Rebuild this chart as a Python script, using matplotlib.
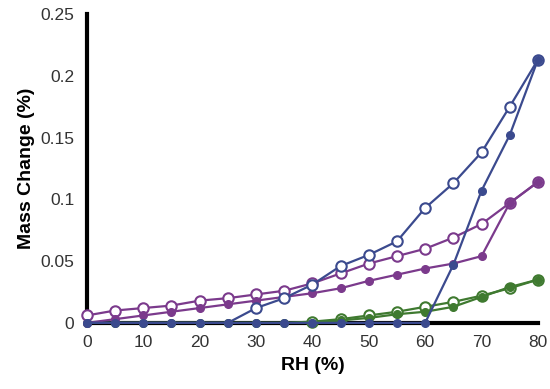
import matplotlib.pyplot as plt

plt.rcParams['font.family'] = ['Liberation Sans', 'DejaVu Sans']

rh = [0, 5, 10, 15, 20, 25, 30, 35, 40, 45, 50, 55, 60, 65, 70, 75, 80]

blue_open = [0, 0, 0, 0, 0, 0, 0.012, 0.02, 0.031, 0.046, 0.055, 0.066, 0.093, 0.113, 0.138, 0.175, 0.213]
blue_fill = [0, 0, 0, 0, 0, 0, 0, 0, 0, 0, 0, 0, 0, 0.047, 0.107, 0.152, 0.213]
purple_open = [0.006, 0.01, 0.012, 0.014, 0.018, 0.02, 0.023, 0.026, 0.032, 0.04, 0.048, 0.054, 0.06, 0.069, 0.08, 0.097, 0.114]
purple_fill = [0, 0.003, 0.006, 0.009, 0.012, 0.015, 0.018, 0.021, 0.024, 0.028, 0.034, 0.039, 0.044, 0.048, 0.054, 0.097, 0.114]
green_open = [0, 0, 0, 0, 0, 0, 0, 0, 0.001, 0.003, 0.006, 0.009, 0.013, 0.017, 0.022, 0.028, 0.035]
green_fill = [0, 0, 0, 0, 0, 0, 0, 0, 0, 0.002, 0.004, 0.007, 0.009, 0.013, 0.021, 0.029, 0.035]

blue = '#3b4a8e'
purple = '#7b3a8c'
green = '#3f7a30'

fig = plt.figure(figsize=(5.5, 3.89), dpi=100)
ax = fig.add_axes([0.158, 0.170, 0.820, 0.794])

# open circles first (hidden on the axis where value is 0), filled dots on top
for ys, c, z in [(green_open, green, 3), (purple_open, purple, 4), (blue_open, blue, 5)]:
    shown = [i for i, v in enumerate(ys) if v > 0]
    ax.plot(rh, ys, color=c, lw=1.6, marker='o', ms=7.5, mfc='white', mew=1.5,
            markevery=shown, zorder=z, clip_on=False)
for ys, c, z in [(green_fill, green, 3.5), (purple_fill, purple, 4.5), (blue_fill, blue, 5.5)]:
    ax.plot(rh, ys, color=c, lw=1.6, marker='o', ms=5.5, zorder=z, clip_on=False)

ax.set_xlim(0, 80)
ax.set_ylim(0, 0.25)
ax.set_xticks(range(0, 81, 10))
ax.set_yticks([0, 0.05, 0.1, 0.15, 0.2, 0.25])
ax.set_yticklabels(['0', '0.05', '0.1', '0.15', '0.2', '0.25'])
ax.tick_params(length=0, labelsize=12.5, colors='#333333', pad=9)

for s in ['top', 'right', 'bottom', 'left']:
    ax.spines[s].set_visible(False)
ax.plot([0, 80], [0, 0], color='black', lw=3, zorder=2, clip_on=False)
ax.plot([0, 0], [0, 0.25], color='black', lw=3, zorder=2, clip_on=False)

ax.set_xlabel('RH (%)', fontsize=14, fontweight='bold', labelpad=5)
ax.set_ylabel('Mass Change (%)', fontsize=14, fontweight='bold', labelpad=4)

fig.savefig('out.png', dpi=100)
